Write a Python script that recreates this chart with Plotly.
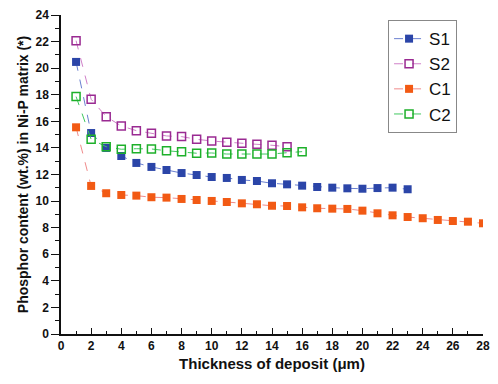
import plotly.graph_objects as go

x_s1 = list(range(1, 24))
s1 = [20.47, 15.12, 14.0, 13.39, 12.87, 12.57, 12.34, 12.11, 11.96, 11.81, 11.74, 11.59,
      11.51, 11.34, 11.26, 11.16, 11.06, 11.01, 10.96, 10.93, 10.98, 11.01, 10.89]
x_s2 = list(range(1, 16))
s2 = [22.07, 17.66, 16.35, 15.65, 15.30, 15.10, 14.90, 14.85, 14.65, 14.52, 14.42, 14.35,
      14.27, 14.20, 14.09]
x_c1 = list(range(1, 29))
c1 = [15.55, 11.14, 10.59, 10.46, 10.41, 10.29, 10.26, 10.16, 10.08, 10.01, 9.93, 9.83,
      9.76, 9.65, 9.63, 9.53, 9.46, 9.43, 9.41, 9.28, 9.08, 8.93, 8.80, 8.71, 8.58, 8.50,
      8.45, 8.33]
x_c2 = list(range(1, 17))
c2 = [17.86, 14.65, 14.09, 13.90, 13.94, 13.92, 13.79, 13.72, 13.60, 13.62, 13.54, 13.54,
      13.54, 13.54, 13.64, 13.72]

fig = go.Figure()
fig.add_trace(go.Scatter(x=x_s1, y=s1, name="S1", mode="lines+markers",
                         line=dict(color="#6a7fd0", width=1, dash="dash"),
                         marker=dict(symbol="square", size=8, color="#2b45a8")))
fig.add_trace(go.Scatter(x=x_s2, y=s2, name="S2", mode="lines+markers",
                         line=dict(color="#d080c8", width=1, dash="dash"),
                         marker=dict(symbol="square-open", size=8, color="#9a2a92",
                                     line=dict(width=1.5))))
fig.add_trace(go.Scatter(x=x_c1, y=c1, name="C1", mode="lines+markers",
                         line=dict(color="#f08a8a", width=1, dash="dash"),
                         marker=dict(symbol="square", size=8, color="#f25a14")))
fig.add_trace(go.Scatter(x=x_c2, y=c2, name="C2", mode="lines+markers",
                         line=dict(color="#40c860", width=1, dash="dash"),
                         marker=dict(symbol="square-open", size=8, color="#1db02a",
                                     line=dict(width=1.5))))

fig.update_layout(
    width=498, height=384,
    margin=dict(l=61, r=8, t=15, b=50),
    paper_bgcolor="white", plot_bgcolor="white",
    font=dict(family="Liberation Sans, Arial", color="#111"),
    legend=dict(x=0.775, y=0.984, xanchor="left", yanchor="top",
                bordercolor="#888", borderwidth=1, bgcolor="white",
                font=dict(size=17, color="#111"), tracegroupgap=0,
                itemwidth=30),
    xaxis=dict(range=[0, 28], dtick=2, showline=True, linecolor="#111", linewidth=1.5,
               ticks="inside", ticklen=6, tickcolor="#111", showgrid=False, zeroline=False,
               tickfont=dict(size=12), ticklabeloverflow="allow",
               minor=dict(ticks="inside", ticklen=3, dtick=1, tickcolor="#111"),
               title=dict(text="<b>Thickness of deposit (μm)</b>", font=dict(size=15), standoff=6)),
    yaxis=dict(range=[0, 24], dtick=2, showline=True, linecolor="#111", linewidth=1.5,
               ticks="outside", ticklen=8, tickcolor="#111", showgrid=False, zeroline=False,
               tickfont=dict(size=12),
               minor=dict(ticks="outside", ticklen=4, dtick=1, tickcolor="#111"),
               title=dict(text="<b>Phosphor content (wt.%) in Ni-P matrix (*)</b>",
                          font=dict(size=14), standoff=4)),
)
fig.update_xaxes(tickprefix="<b>", ticksuffix="</b>")
fig.update_yaxes(tickprefix="<b>", ticksuffix="</b>")

fig.write_html("out.html", config={"displayModeBar": False},
               post_script="document.body.style.margin='0';")
